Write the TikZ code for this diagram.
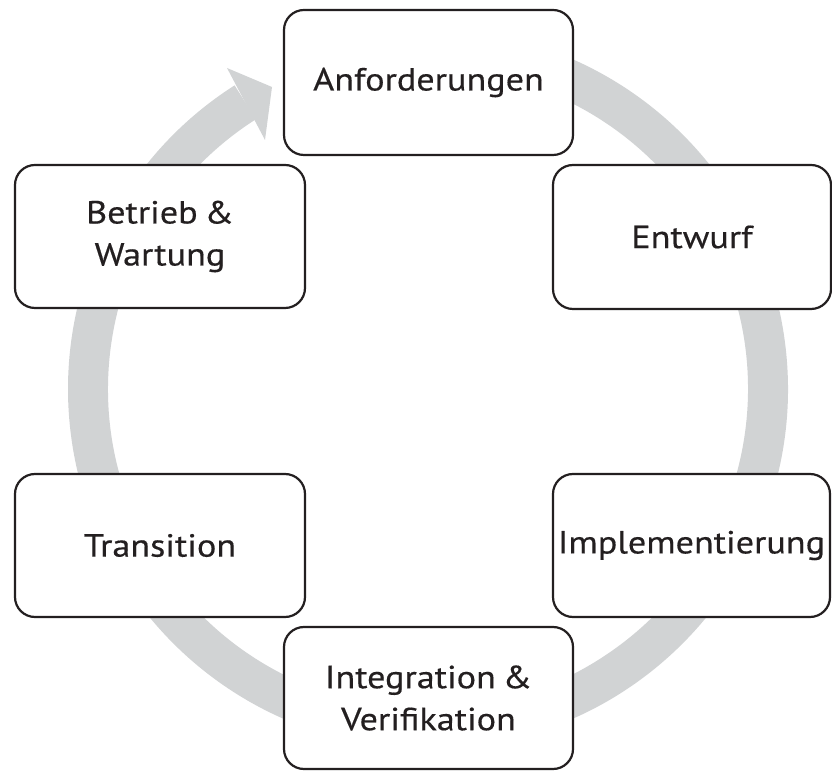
\documentclass[tikz,border=0pt]{standalone}
\usepackage{fontspec}
\setmainfont{PT Sans}[FakeStretch=1.13,FakeBold=0.4,WordSpace=0.7]
\definecolor{ringgray}{RGB}{209,211,212}
\definecolor{ink}{RGB}{35,31,32}
\begin{document}
\begin{tikzpicture}[x=1pt,y=1pt,
  phase/.style={draw=ink, line width=2.2pt, fill=white, rounded corners=20pt,
    inner sep=0pt, align=center, text=ink,
    font=\fontsize{32}{42}\selectfont}]
\useasboundingbox (0,0) rectangle (832,771);
% circular arrow behind the phases
\coordinate (c) at (428,382);
\fill[ringgray, shift={(c)}]
  (95:360) arc[start angle=95, end angle=-237.5, radius=360]
  -- (-237.5:320) arc[start angle=-237.5, end angle=95, radius=320] -- cycle;
\coordinate (hout) at (227,703);
\coordinate (htip) at (272,684);
\coordinate (hin) at (265,631);
\fill[ringgray] (hout) -- (htip) -- (hin) -- cycle;
% phases
\node[phase, minimum width=289pt, minimum height=145pt] (anf) at (428.5,688.5) {Anforderungen};
\node[phase, minimum width=278pt, minimum height=144pt] (ent) at (692,534) {Entwurf};
\node[phase, minimum width=290pt, minimum height=143pt] (bet) at (160,534.5) {Betrieb \&\\Wartung};
\node[phase, minimum width=290pt, minimum height=143pt] (tra) at (160,225.5) {Transition};
\node[phase, minimum width=277pt, minimum height=143pt] (imp) at (691.5,225.5) {Implementierung};
\node[phase, minimum width=289pt, minimum height=142pt] (int) at (428.5,73) {Integration \&\\Verifikation};
\end{tikzpicture}
\end{document}
